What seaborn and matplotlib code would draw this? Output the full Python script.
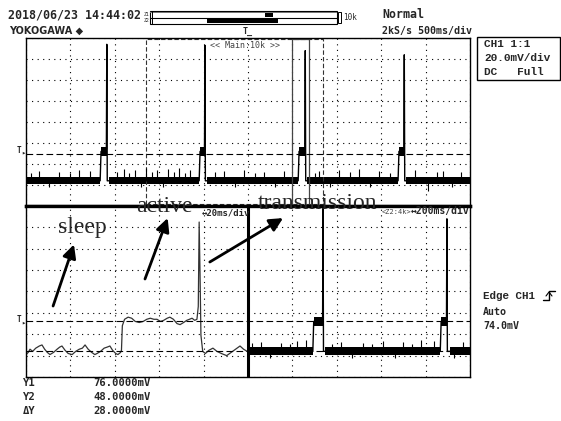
import matplotlib
matplotlib.use('Agg')
import matplotlib.pyplot as plt
from matplotlib.patches import Rectangle
from matplotlib.lines import Line2D
import seaborn as sns
import pandas as pd

W, H = 561, 421

# ---- data: x in divisions (10 per screen), y in mV ----
y_lo, y_hi = 24, 184
trig_level = 74.0
cursor_y1 = 76.0
cursor_y2 = 48.0
base_mv = 48
noise_lo, noise_hi = 45, 52
burst_lo, burst_hi = 72, 80

# main window, 500ms/div
top_burst_start = [1.67, 3.90, 6.13, 8.38]
top_spike_x = [1.82, 4.03, 6.29, 8.52]
top_spike_mv = [178, 177, 172, 168]
top_noise_start = [0.00, 1.86, 4.08, 6.33, 8.56]
top_noise_end = [1.67, 3.90, 6.13, 8.38, 10.00]
top_glitch_x = [0.12, 0.30, 0.52, 0.75, 0.98, 1.20, 1.45, 2.05, 2.20, 2.33, 2.45,
                2.58, 2.70, 2.83, 2.95, 3.08, 3.20, 3.33, 3.45, 3.58, 3.70, 4.25,
                4.45, 4.70, 4.90, 5.15, 5.35, 5.60, 5.80, 6.50, 6.60, 6.85, 7.05,
                7.30, 7.50, 7.75, 7.95, 8.20, 8.75, 9.05, 9.25, 9.40, 9.60, 9.80]
top_glitch_mv = [55, 57, 42, 56, 55, 58, 57, 56, 59, 55, 58,
                 42, 60, 56, 58, 42, 59, 56, 60, 55, 58, 56,
                 57, 42, 58, 55, 56, 42, 57, 55, 57, 42, 58,
                 56, 59, 42, 57, 55, 58, 38, 56, 57, 42, 56]

# zoom 1, 20ms/div (left half of lower screen)
z1_x = [0.00, 0.05, 0.09, 0.15, 0.22, 0.30, 0.36, 0.42, 0.48, 0.54, 0.62, 0.70,
        0.76, 0.81, 0.88, 0.95, 1.04, 1.12, 1.20, 1.27, 1.33, 1.40, 1.48, 1.55,
        1.60, 1.68, 1.76, 1.83, 1.89, 1.95, 2.02, 2.07, 2.13, 2.15, 2.17, 2.22,
        2.30, 2.38, 2.46, 2.55, 2.64, 2.72, 2.80, 2.88, 2.95, 3.03, 3.10, 3.18,
        3.24, 3.32, 3.40, 3.47, 3.55, 3.62, 3.68, 3.74, 3.80, 3.85, 3.88, 3.90,
        3.92, 3.94, 3.98, 4.04, 4.12, 4.21, 4.30, 4.40, 4.52, 4.62, 4.72, 4.82,
        4.90, 4.98]
z1_mv = [45, 47, 50, 48, 51, 53, 54, 50, 47, 45, 47, 50,
         52, 53, 49, 46, 45, 48, 50, 51, 54, 50, 47, 45,
         46, 48, 51, 52, 53, 49, 46, 45, 47, 49, 72, 78,
         80, 79, 76, 75, 76, 78, 79, 78, 78, 76, 77, 79,
         80, 78, 74, 73, 75, 77, 78, 79, 77, 78, 90, 169,
         120, 63, 48, 46, 49, 51, 48, 46, 44, 47, 50, 53,
         50, 48]

# zoom 2, 200ms/div (right half of lower screen)
z2_burst_start = [6.46, 9.33]
z2_spike_x = [6.69, 9.48]
z2_spike_mv = [184, 172]
z2_noise_start = [5.00, 6.73, 9.55]
z2_noise_end = [6.46, 9.33, 10.00]
z2_glitch_x = [5.10, 5.30, 5.50, 5.75, 5.95, 6.10, 6.30, 6.90, 7.10, 7.35, 7.60,
               7.80, 8.05, 8.30, 8.50, 8.70, 8.90, 9.20, 9.65, 9.85]
z2_glitch_mv = [56, 57, 42, 56, 55, 58, 59, 55, 57, 42, 56,
                55, 58, 42, 57, 55, 59, 58, 42, 57]

zoom1_window = (2.70, 6.69)
zoom2_window = (5.99, 6.37)


def px(x, y):
    return x / W, 1 - y / H


def event_lines(burst_start, spike_x, spike_mv, noise_start):
    rows = []
    for i, (bs, sx, pk) in enumerate(zip(burst_start, spike_x, spike_mv)):
        resume = min(s for s in noise_start if s > sx)
        pts = [(bs, base_mv), (bs + 0.02, 76), (sx - 0.01, 78), (sx, pk),
               (sx + 0.01, base_mv), (resume, base_mv)]
        rows += [dict(seg=i, x=a, mv=b) for a, b in pts]
    return pd.DataFrame(rows)


def style_screen(ax):
    ax.set_xlim(0, 10)
    ax.set_ylim(y_lo, y_hi)
    ax.set_xticks(range(11))
    ax.set_yticks(range(y_lo, y_hi + 1, 20))
    ax.set_xticklabels([])
    ax.set_yticklabels([])
    ax.tick_params(length=0)
    ax.grid(True, color='black', lw=0.8, ls=(0, (1, 4)))
    ax.set_axisbelow(True)
    ax.set_xlabel('')
    ax.set_ylabel('')
    for s in ax.spines.values():
        s.set_color('black')
        s.set_linewidth(1.0)


def draw_trace(ax, burst_start, spike_x, spike_mv, noise_start, noise_end,
               glitch_x, glitch_mv):
    for a, b in zip(noise_start, noise_end):
        ax.fill_between([a, b], noise_lo, noise_hi, color='black', lw=0)
    for bs, sx in zip(burst_start, spike_x):
        ax.fill_between([bs + 0.02, sx], burst_lo, burst_hi, color='black', lw=0)
    ax.vlines(glitch_x, base_mv, glitch_mv, color='black', lw=0.8)
    df = event_lines(burst_start, spike_x, spike_mv, noise_start)
    sns.lineplot(data=df, x='x', y='mv', units='seg', estimator=None, sort=False,
                 color='black', lw=1.0, ax=ax, legend=False)


sns.set_style('white')
plt.rcParams['font.family'] = ['DejaVu Sans Mono', 'DejaVu Sans']

fig = plt.figure(figsize=(W / 100, H / 100), dpi=100)
ax_top = fig.add_axes([26 / W, 1 - 206 / H, 444 / W, 168 / H])
ax_bot = fig.add_axes([26 / W, 1 - 377 / H, 444 / W, 171 / H])

# ---- main screen ----
draw_trace(ax_top, top_burst_start, top_spike_x, top_spike_mv,
           top_noise_start, top_noise_end, top_glitch_x, top_glitch_mv)
style_screen(ax_top)
ax_top.axhline(trig_level, color='black', lw=0.8, ls=(0, (6, 3)))
ax_top.add_patch(Rectangle((zoom1_window[0], 26), zoom1_window[1] - zoom1_window[0], 157,
                           fill=False, ec='#333333', lw=0.8, ls=(0, (4, 2))))
ax_top.add_patch(Rectangle((zoom2_window[0], 20), zoom2_window[1] - zoom2_window[0], 163,
                           fill=False, ec='#444444', lw=0.9, clip_on=True))
ax_top.spines['bottom'].set_linewidth(2.4)
ax_top.text(0.415, 0.985, '<< Main:10k >>', transform=ax_top.transAxes,
            fontsize=6, color='#444444', va='top', ha='left')

# ---- zoom screen ----
sns.lineplot(x=z1_x, y=z1_mv, color='#333333', lw=0.9, sort=False,
             estimator=None, ax=ax_bot)
draw_trace(ax_bot, z2_burst_start, z2_spike_x, z2_spike_mv,
           z2_noise_start, z2_noise_end, z2_glitch_x, z2_glitch_mv)
style_screen(ax_bot)
ax_bot.axhline(cursor_y1, color='black', lw=0.8, ls=(0, (6, 3)))
ax_bot.axhline(cursor_y2, color='black', lw=0.8, ls=(0, (6, 3)))
ax_bot.axvline(5.0, color='black', lw=2.2)
ax_bot.spines['top'].set_linewidth(2.4)

# annotations
serif = 'Liberation Serif'
ax_bot.text(0.72, 158.7, 'sleep', family=serif, fontsize=17, va='baseline')
ax_bot.text(2.48, 178.4, 'active', family=serif, fontsize=17, va='baseline', clip_on=False)
ax_bot.text(5.23, 181.2, 'transmission', family=serif, fontsize=17, va='baseline', clip_on=False)
arrows = [((0.61, 90.4), (1.08, 148.0)),
          ((2.68, 115.7), (3.19, 172.7)),
          ((4.14, 131.6), (5.79, 172.7))]
for tail, tip in arrows:
    ax_bot.annotate('', xy=tip, xytext=tail, annotation_clip=False,
                    arrowprops=dict(arrowstyle='-|>', lw=2.0, color='black',
                                    mutation_scale=20, shrinkA=0, shrinkB=0))

fig.text(*px(202, 213), '↔20ms/div', fontsize=6.5, weight='bold', va='center')
fig.text(*px(382, 212), '<Z2:4k>', fontsize=5, color='#444444', va='center')
fig.text(*px(411, 211), '↔200ms/div', fontsize=7, weight='bold', va='center')

# trigger markers at left edge
for y in (152, 322):
    fig.text(*px(17, y - 2), 'T', fontsize=5.5, weight='bold', va='center')
    fig.text(*px(21, y), '▸', fontsize=5, va='center')

# ---- header ----
fig.text(*px(8, 15), '2018/06/23 14:44:02', fontsize=8.4, weight='bold', va='center')
fig.text(*px(9, 31), 'YOKOGAWA ◆', family='DejaVu Sans', fontsize=7, weight='bold', va='center')
fig.text(*px(382, 15), 'Normal', fontsize=8.4, weight='bold', va='center')
fig.text(*px(382, 31), '2kS/s 500ms/div', fontsize=7.2, weight='bold', va='center')
fig.text(*px(144, 14), 'Z1', fontsize=3.5, va='center')
fig.text(*px(144, 20), 'Z2', fontsize=3.5, va='center')
fig.text(*px(343, 18), '10k', fontsize=5.5, va='center')
fig.text(*px(243, 31), 'T\u0332', fontsize=6, weight='bold', va='center')


# record-length bar
def frect(x0, y0, x1, y1, **kw):
    fx0, fy1 = px(x0, y1)
    fig.add_artist(Rectangle((fx0, fy1), (x1 - x0) / W, (y1 - y0) / H,
                             transform=fig.transFigure, **kw))


frect(150, 11, 337, 24, fill=False, ec='black', lw=0.8)
frect(150, 12, 337, 13, fill=True, fc='#777777', ec='none')
fig.add_artist(Line2D([150 / W, 337 / W], [1 - 17.5 / H] * 2, color='black', lw=0.8))
frect(265, 13.5, 273, 16.5, fill=True, fc='black', ec='none')
frect(207, 19, 278, 23, fill=True, fc='black', ec='none')
frect(338, 12, 341, 23, fill=False, ec='black', lw=0.7)
frect(152, 11, 153, 24, fill=True, fc='black', ec='none')

# channel box
frect(477, 37, 560, 80, fill=False, ec='black', lw=1.0)
mono_serif = ['Liberation Mono', 'DejaVu Sans Mono']
fig.text(*px(484, 44), 'CH1 1:1', family=mono_serif, fontsize=8, weight='bold', va='center')
fig.text(*px(484, 58), '20.0mV/div', family=mono_serif, fontsize=8, weight='bold', va='center')
fig.text(*px(484, 72), 'DC   Full', family=mono_serif, fontsize=8, weight='bold', va='center')

# trigger settings
fig.text(*px(483, 296), 'Edge CH1', family=mono_serif, fontsize=7.8, weight='bold', va='center')
fig.text(*px(483, 312), 'Auto', fontsize=7.2, weight='bold', va='center')
fig.text(*px(483, 326), '74.0mV', fontsize=7.2, weight='bold', va='center')
ex = [543, 549, 549, 555]
ey = [300, 300, 291, 291]
fig.add_artist(Line2D([x / W for x in ex], [1 - y / H for y in ey], color='black', lw=1.0))
fig.add_artist(Line2D([546 / W, 549 / W, 552 / W], [1 - 296 / H, 1 - 292 / H, 1 - 296 / H],
                      color='black', lw=0.8))

# cursor readout
cursor_rows = [('Y1', '76.0000mV', 383), ('Y2', '48.0000mV', 397), ('ΔY', '28.0000mV', 411)]
for lab, val, y in cursor_rows:
    fig.text(*px(23, y), lab, fontsize=7.6, weight='bold', va='center')
    fig.text(*px(93, y), val, fontsize=7.6, weight='bold', va='center')

fig.savefig('out.png', dpi=100, facecolor='white')
